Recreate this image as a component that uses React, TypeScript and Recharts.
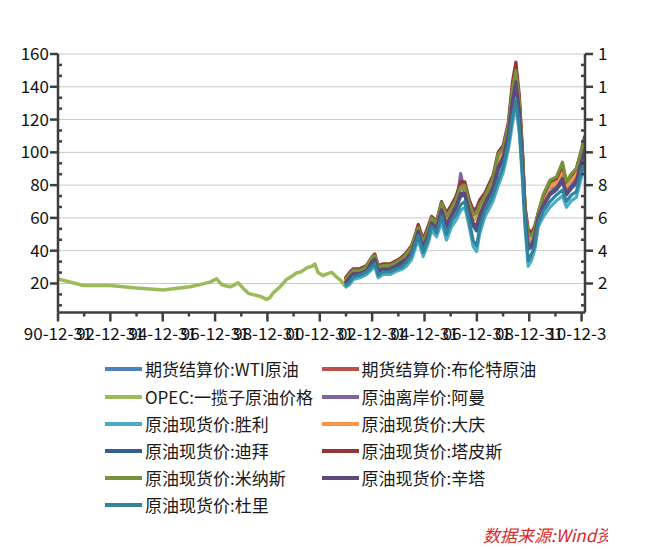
import React from "react";
import { LineChart, Line, XAxis, YAxis, CartesianGrid } from "recharts";

const FONT = '"Noto Sans CJK SC", "Noto Sans", sans-serif';
const AXIS = "#3f3f3f";
const TEXT = "#111111";

// x axis: tick positions (decimal years) and their labels
const X_MAJOR = [1991, 1993, 1995, 1997, 1999, 2001, 2003, 2005, 2007, 2009, 2011];
const X_LABELS = ["90-12-31", "92-12-31", "94-12-31", "96-12-31", "98-12-31", "00-12-31", "02-12-31", "04-12-31", "06-12-31", "08-12-31", "10-12-31"];
const X_MINOR = [1992, 1994, 1996, 1998, 2000, 2002, 2004, 2006, 2008, 2010];
const Y_MAJOR = [20, 40, 60, 80, 100, 120, 140, 160];

// OPEC basket before the other series start (decimal years)
const OPEC_EARLY_T = [1991.0, 1991.97, 1992.99, 1994.0, 1995.02, 1996.04, 1996.5, 1996.8, 1997.06, 1997.25, 1997.4, 1997.57, 1997.75, 1997.88, 1998.08, 1998.27, 1998.45, 1998.59, 1998.75, 1998.97, 1999.1, 1999.22, 1999.45, 1999.73, 1999.95, 2000.11, 2000.3, 2000.5, 2000.7, 2000.81, 2000.94, 2001.13, 2001.3, 2001.45, 2001.6, 2001.77];
const OPEC_EARLY = [22.8, 18.8, 18.8, 17.2, 16.0, 18.0, 19.6, 20.8, 22.8, 19.4, 18.6, 18.0, 19.2, 20.4, 17.0, 14.0, 13.2, 12.7, 12.0, 10.3, 11.5, 14.3, 17.5, 22.4, 24.5, 26.5, 27.2, 29.5, 30.5, 31.9, 26.5, 24.8, 26.0, 26.8, 24.5, 22.4];

// all eleven series, 2002 onwards (decimal years)
const T = [2001.96, 2002.15, 2002.28, 2002.53, 2002.79, 2002.98, 2003.1, 2003.23, 2003.42, 2003.68, 2003.93, 2004.12, 2004.31, 2004.5, 2004.67, 2004.76, 2004.95, 2005.14, 2005.27, 2005.46, 2005.65, 2005.84, 2006.03, 2006.2, 2006.38, 2006.54, 2006.71, 2006.86, 2006.99, 2007.11, 2007.3, 2007.5, 2007.62, 2007.81, 2008.0, 2008.2, 2008.36, 2008.49, 2008.62, 2008.74, 2008.84, 2008.96, 2009.09, 2009.21, 2009.34, 2009.53, 2009.79, 2010.04, 2010.27, 2010.42, 2010.61, 2010.8, 2011.0, 2011.12];
const WTI = [21, 25, 27, 27, 30, 34, 36, 29, 30, 30, 32, 34, 37, 41, 49, 54, 44, 52, 59, 56, 67, 59, 65, 70, 78, 78, 67, 60, 60, 66, 72, 78, 82, 95, 100, 114, 137, 148, 129, 97, 64, 48, 47, 52, 60, 70, 78, 79, 88, 78, 82, 86, 96, 101];
const BRENT = [22, 26, 28, 28, 30, 35, 37, 30, 31, 31, 33, 35, 38, 42, 50, 55, 46, 54, 60, 57, 69, 61, 67, 72, 80, 80, 70, 63, 64, 69, 74, 80, 84, 98, 102, 116, 140, 152, 132, 100, 66, 51, 49, 54, 62, 72, 80, 82, 91, 80, 84, 88, 100, 108];
const OPEC = [18.5, 25, 27, 27, 29, 34, 36, 29, 30, 30, 32, 34, 36, 41, 49, 53, 44, 52, 59, 55, 67, 58, 64, 69, 77, 78, 67, 59, 59, 65, 71, 77, 81, 94, 99, 113, 135, 147, 128, 97, 64, 46, 46, 51, 61, 72, 81, 83, 91, 81, 85, 88, 99, 106];
const OMAN = [20, 23, 26, 26, 28, 32, 34, 27, 29, 28, 31, 32, 35, 39, 47, 52, 42, 50, 57, 54, 64, 55, 62, 66, 87, 75, 63, 56, 53, 61, 68, 75, 79, 90, 96, 110, 131, 142, 124, 93, 61, 42, 43, 48, 59, 67, 75, 78, 83, 75, 79, 82, 94, 101];
const SHENGLI = [17.5, 19.5, 22.5, 23.5, 25.5, 28.5, 30.5, 23.5, 25.5, 25.5, 27.5, 28.5, 30.5, 34.5, 42.5, 46.5, 36.5, 44.5, 52.5, 48.5, 57.5, 46.5, 54.5, 58.5, 64.5, 66.5, 54.5, 42.5, 39.5, 50.5, 60.5, 66.5, 70.5, 79.5, 87.5, 101.5, 117.5, 128.5, 111.5, 83.5, 54.5, 30.5, 34.5, 40.5, 54.5, 60.5, 66.5, 70.5, 73.5, 66.5, 70.5, 72.5, 85.5, 91.5];
const DAQING = [21, 25, 27, 28, 30, 34, 36, 29, 30, 31, 32, 34, 37, 41, 49, 54, 45, 53, 59, 56, 68, 60, 65, 70, 79, 79, 68, 61, 61, 67, 72, 79, 83, 96, 101, 115, 138, 150, 130, 98, 65, 49, 48, 52, 61, 71, 79, 81, 89, 79, 83, 87, 99, 106];
const DUBAI = [20, 23, 25, 26, 28, 32, 34, 27, 28, 28, 30, 32, 34, 39, 47, 51, 41, 49, 57, 53, 64, 54, 61, 66, 73, 74, 63, 55, 52, 60, 68, 74, 78, 89, 95, 109, 130, 141, 122, 92, 61, 41, 42, 47, 59, 67, 74, 77, 82, 74, 78, 81, 93, 100];
const TAPIS = [23, 27, 29, 29, 31, 36, 38, 31, 32, 32, 34, 36, 39, 43, 51, 56, 47, 55, 61, 58, 70, 63, 68, 73, 82, 82, 71, 65, 66, 71, 75, 82, 86, 100, 104, 118, 143, 155, 135, 102, 67, 53, 51, 55, 63, 73, 82, 84, 92, 82, 86, 90, 102, 110];
const MINAS = [22, 26, 28, 28, 30, 36, 37, 30, 31, 31, 33, 35, 38, 42, 50, 54, 45, 53, 60, 57, 69, 61, 66, 71, 79, 80, 69, 62, 63, 68, 73, 80, 84, 99, 102, 116, 139, 150, 131, 99, 65, 50, 49, 53, 63, 74, 83, 85, 94, 82, 87, 90, 101, 108];
const SINTA = [20, 24, 26, 26, 28, 33, 35, 28, 29, 29, 31, 33, 35, 39, 47, 52, 42, 50, 57, 54, 65, 56, 62, 67, 75, 75, 64, 57, 55, 62, 69, 75, 79, 91, 97, 111, 132, 143, 125, 94, 62, 43, 44, 49, 60, 68, 75, 78, 84, 75, 79, 83, 95, 102];
const DURI = [18.5, 21, 24, 25, 27, 30, 32, 25, 27, 27, 29, 30, 33, 37, 45, 49, 39, 47, 55, 51, 61, 50, 58, 62, 68, 70, 58, 46, 43, 54, 64, 70, 74, 83, 91, 105, 122, 132, 116, 87, 58, 34, 38, 43, 57, 64, 70, 74, 77, 70, 74, 76, 89, 95];

const SERIES = [
  { key: "wti", name: "期货结算价:WTI原油", color: "#4F81BD", values: WTI },
  { key: "brent", name: "期货结算价:布伦特原油", color: "#C0504D", values: BRENT },
  { key: "opec", name: "OPEC:一揽子原油价格", color: "#9BBB59", values: OPEC },
  { key: "oman", name: "原油离岸价:阿曼", color: "#8064A2", values: OMAN },
  { key: "shengli", name: "原油现货价:胜利", color: "#4BACC6", values: SHENGLI },
  { key: "daqing", name: "原油现货价:大庆", color: "#F79646", values: DAQING },
  { key: "dubai", name: "原油现货价:迪拜", color: "#365F91", values: DUBAI },
  { key: "tapis", name: "原油现货价:塔皮斯", color: "#943634", values: TAPIS },
  { key: "minas", name: "原油现货价:米纳斯", color: "#76923C", values: MINAS },
  { key: "sinta", name: "原油现货价:辛塔", color: "#5F497A", values: SINTA },
  { key: "duri", name: "原油现货价:杜里", color: "#31849B", values: DURI },
];

const mainData = T.map((t, i) => {
  const row: Record<string, number> = { t };
  SERIES.forEach((s) => {
    row[s.key] = s.values[i];
  });
  return row;
});
const opecData = [
  ...OPEC_EARLY_T.map((t, i) => ({ t, opec: OPEC_EARLY[i] })),
  ...T.map((t, i) => ({ t, opec: OPEC[i] })),
];

const X_TICKS = [...X_MAJOR, ...X_MINOR].sort((a, b) => a - b);
const Y_TICKS: number[] = [];
for (let m = 0; m < 160; m += 20) {
  Y_TICKS.push(m + 20 / 3, m + 40 / 3, m + 20);
}

const XTick = (props: any) => {
  const { x, y, payload } = props;
  const idx = X_MAJOR.indexOf(payload.value);
  if (idx >= 0) {
    return (
      <g>
        <line x1={x} x2={x} y1={y} y2={y + 9} stroke={AXIS} strokeWidth={2.5} />
        <text x={x} y={y + 27} textAnchor="middle" fontSize={17} fontFamily={FONT} fill={TEXT}>
          {X_LABELS[idx]}
        </text>
      </g>
    );
  }
  return <line x1={x} x2={x} y1={y} y2={y + 4} stroke={AXIS} strokeWidth={2.5} />;
};

const LeftTick = (props: any) => {
  const { x, y, payload } = props;
  const v = payload.value;
  if (Y_MAJOR.includes(v)) {
    return (
      <g>
        <line x1={x - 8} x2={x} y1={y} y2={y} stroke={AXIS} strokeWidth={2.5} />
        <text x={x - 9} y={y + 6} textAnchor="end" fontSize={17} fontFamily={FONT} fill={TEXT}>
          {v}
        </text>
      </g>
    );
  }
  return <line x1={x} x2={x + 4} y1={y} y2={y} stroke={AXIS} strokeWidth={2.5} />;
};

const RightTick = (props: any) => {
  const { x, y, payload } = props;
  const v = payload.value;
  if (Y_MAJOR.includes(v)) {
    return (
      <g>
        <line x1={x} x2={x + 8} y1={y} y2={y} stroke={AXIS} strokeWidth={2.5} />
        <text x={x + 13} y={y + 6} textAnchor="start" fontSize={17} fontFamily={FONT} fill={TEXT}>
          {v}
        </text>
      </g>
    );
  }
  return <line x1={x - 4} x2={x} y1={y} y2={y} stroke={AXIS} strokeWidth={2.5} />;
};

const LEGEND_ROW_Y = [361, 388.5, 416, 443, 469.5, 497];
const LEGEND_COL_X = [97, 313.5];

export default function App() {
  return (
    <div style={{ position: "relative", width: 600, height: 542, overflow: "hidden", fontFamily: FONT }}>
      <LineChart width={600} height={350} margin={{ top: 46, right: 0, left: 0, bottom: 15.5 }}>
        <CartesianGrid yAxisId="left" vertical={false} horizontalValues={Y_MAJOR} stroke="#c8c8c8" strokeWidth={1} />
        <XAxis
          dataKey="t"
          type="number"
          domain={[1991, 2011.13]}
          allowDataOverflow
          ticks={X_TICKS}
          interval={0}
          height={30}
          tickSize={0}
          tickMargin={0}
          tickLine={false}
          axisLine={{ stroke: AXIS, strokeWidth: 2.5 }}
          tick={XTick}
        />
        <YAxis
          yAxisId="left"
          orientation="left"
          type="number"
          domain={[2.3, 160]}
          allowDataOverflow
          ticks={Y_TICKS}
          interval={0}
          width={50}
          tickSize={0}
          tickMargin={0}
          tickLine={false}
          axisLine={{ stroke: AXIS, strokeWidth: 2.5 }}
          tick={LeftTick}
        />
        <YAxis
          yAxisId="right"
          orientation="right"
          type="number"
          domain={[2.3, 160]}
          allowDataOverflow
          ticks={Y_TICKS}
          interval={0}
          width={23}
          tickSize={0}
          tickMargin={0}
          tickLine={false}
          axisLine={{ stroke: AXIS, strokeWidth: 2.5 }}
          tick={RightTick}
        />
        {SERIES.map((s) => (
          <Line
            key={s.key}
            yAxisId="left"
            data={s.key === "opec" ? opecData : mainData}
            dataKey={s.key}
            name={s.name}
            type="linear"
            stroke={s.color}
            strokeWidth={s.key === "opec" ? 3.5 : 3.2}
            strokeLinejoin="round"
            dot={false}
            activeDot={false}
            isAnimationActive={false}
          />
        ))}
      </LineChart>
      {SERIES.map((s, i) => {
        const col = i % 2;
        const row = Math.floor(i / 2);
        return (
          <div
            key={s.key}
            style={{
              position: "absolute",
              left: LEGEND_COL_X[col],
              top: LEGEND_ROW_Y[row] - 12,
              height: 24,
              display: "flex",
              alignItems: "center",
              whiteSpace: "nowrap",
            }}
          >
            <div style={{ width: 37, height: 4, background: s.color, marginRight: 3 }} />
            <span style={{ fontSize: 17, color: "#1a1a1a", lineHeight: "24px" }}>{s.name}</span>
          </div>
        );
      })}
      <div
        style={{
          position: "absolute",
          left: 475,
          top: 515,
          fontSize: 17,
          lineHeight: "24px",
          fontStyle: "italic",
          color: "#d42a2a",
          whiteSpace: "nowrap",
        }}
      >
        数据来源:Wind资讯
      </div>
    </div>
  );
}
